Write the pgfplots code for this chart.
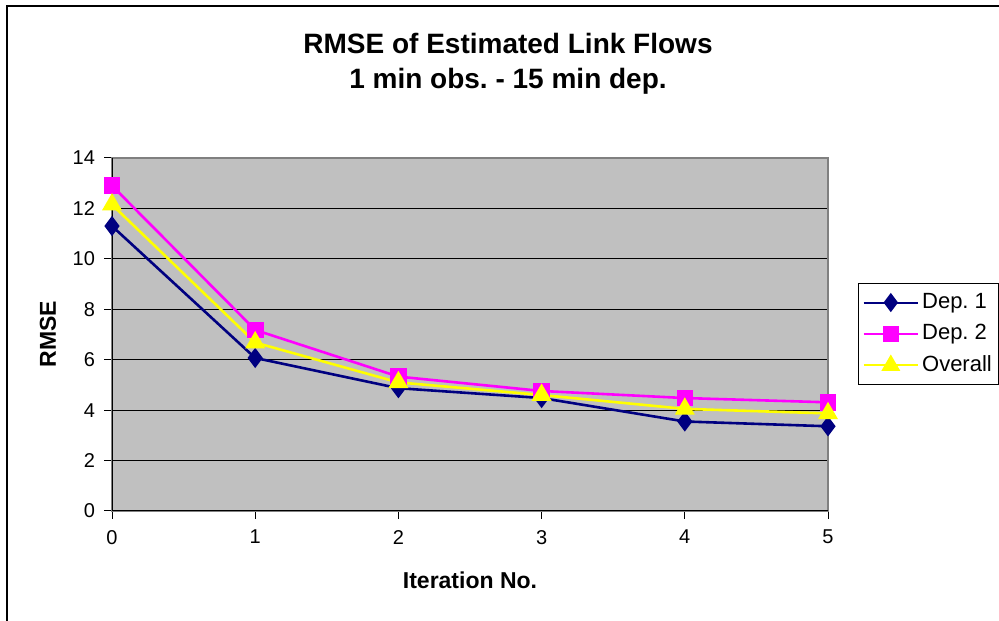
\documentclass[border=0pt]{standalone}
\usepackage{pgfplots}
\pgfplotsset{compat=1.18}
\usepackage{fontspec}
\setmainfont{Liberation Sans}
\frenchspacing
\definecolor{plotbg}{HTML}{C0C0C0}
\definecolor{depone}{HTML}{000080}
\definecolor{deptwo}{HTML}{FF00FF}
\definecolor{overall}{HTML}{FFFF00}
\definecolor{frameg}{HTML}{808080}
\begin{document}
\begin{tikzpicture}
\useasboundingbox (0pt,0pt) rectangle (499.5pt,310pt);
% chart area border (open on the right and bottom)
\draw[black,line width=0.6pt] (3.5pt,-5pt) -- (3.5pt,307pt) -- (505pt,307pt);
\begin{axis}[
  at={(56pt,231pt)}, anchor=north west,
  width=358pt, height=176.5pt, scale only axis,
  xmin=0, xmax=5, ymin=0, ymax=14,
  xtick={0,1,2,3,4,5}, ytick={0,2,...,14},
  xtick pos=left, ytick pos=left,
  axis background/.style={fill=plotbg},
  axis line style={frameg, line width=1.2pt},
  ymajorgrids, grid style={black, line width=0.5pt},
  tick style={black, line width=0.5pt},
  tick align=outside, major tick length=4pt,
  tick label style={font=\fontsize{10}{12}\selectfont},
  /pgf/number format/assume math mode=true,
  yticklabel style={xshift=-1pt},
  xticklabel style={yshift=-2pt},
  legend style={at={(rel axis cs:1.0419,0.6459)}, anchor=north west,
    draw=black, line width=0.5pt, font=\fontsize{11}{13}\selectfont,
    row sep=2.5pt, inner xsep=2pt, inner ysep=3pt, fill=white,
    nodes={inner xsep=1.5pt}},
  legend cell align=left,
  legend image code/.code={%
    \draw[line width=1pt, mark repeat=2, mark phase=2]
      plot coordinates {(0cm,0cm) (0.48cm,0cm) (0.96cm,0cm)};},
]
% axis lines drawn black on the left and bottom
\draw[black,line width=0.8pt] (rel axis cs:0,0) -- (rel axis cs:0,1);
\draw[black,line width=0.8pt] (rel axis cs:0,0) -- (rel axis cs:1,0);
\addplot[depone, line width=1.3pt, mark=diamond*, mark size=4pt,
  mark options={fill=depone, draw=depone}]
  coordinates {(0,11.30) (1,6.07) (2,4.87) (3,4.48) (4,3.55) (5,3.36)};
\addlegendentry{Dep. 1}
\addplot[deptwo, line width=1.3pt, mark=square*, mark size=3.5pt,
  mark options={fill=deptwo, draw=deptwo}]
  coordinates {(0,12.90) (1,7.18) (2,5.33) (3,4.76) (4,4.48) (5,4.31)};
\addlegendentry{Dep. 2}
\addplot[overall, line width=1.3pt, mark=triangle*, mark size=4.5pt,
  mark options={fill=overall, draw=overall}]
  coordinates {(0,12.15) (1,6.68) (2,5.10) (3,4.60) (4,4.05) (5,3.87)};
\addlegendentry{Overall}
\end{axis}
\node[font=\bfseries\fontsize{14}{17.5}\selectfont, align=center] at (254pt,278pt)
  {RMSE of Estimated Link Flows\\1 min obs. - 15 min dep.};
\node[font=\bfseries\fontsize{11.5}{13}\selectfont, rotate=90] at (24pt,143pt) {RMSE};
\node[font=\bfseries\fontsize{11.5}{13}\selectfont] at (235pt,20pt) {Iteration No.};
\end{tikzpicture}
\end{document}
